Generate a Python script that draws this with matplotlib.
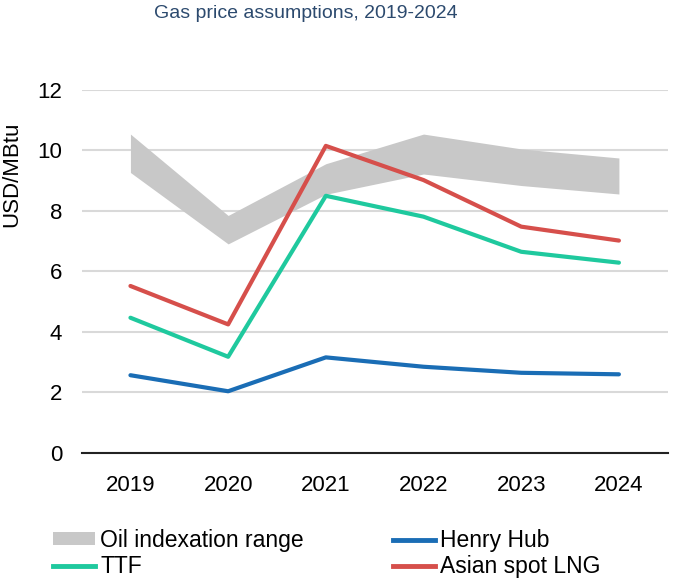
import matplotlib.pyplot as plt
from matplotlib.patches import Patch
from matplotlib.lines import Line2D

plt.rcParams["font.family"] = ["Liberation Sans", "DejaVu Sans"]

years = ["2019", "2020", "2021", "2022", "2023", "2024"]
oil_low = [9.27, 6.91, 8.55, 9.22, 8.84, 8.56]
oil_high = [10.54, 7.85, 9.56, 10.54, 10.05, 9.75]
henry_hub = [2.57, 2.04, 3.16, 2.85, 2.65, 2.60]
ttf = [4.47, 3.18, 8.50, 7.81, 6.65, 6.29]
asian_lng = [5.52, 4.25, 10.15, 9.02, 7.48, 7.02]

c_oil = "#c8c8c8"
c_hh = "#1a6db5"
c_ttf = "#1fc99e"
c_lng = "#d64f4b"


def main():
    fig = plt.figure(figsize=(6.8, 5.8), dpi=100)
    ax = fig.add_axes([0.12, 0.219, 0.862, 0.626])

    x = range(len(years))
    ax.fill_between(x, oil_low, oil_high, color=c_oil, linewidth=0, zorder=2)
    ax.plot(x, henry_hub, color=c_hh, linewidth=3, solid_capstyle="round", zorder=3)
    ax.plot(x, ttf, color=c_ttf, linewidth=3, solid_capstyle="round", zorder=3)
    ax.plot(x, asian_lng, color=c_lng, linewidth=3, solid_capstyle="round", zorder=3)

    ax.set_xlim(-0.5, len(years) - 0.5)
    ax.set_ylim(0, 12)
    ax.set_xticks(list(x))
    ax.set_xticklabels(years)
    ax.set_yticks(range(0, 13, 2))
    ax.tick_params(axis="both", length=0, labelsize=16, colors="black")
    ax.tick_params(axis="x", pad=16)
    ax.tick_params(axis="y", pad=14)

    ax.grid(axis="y", color="#d9d9d9", linewidth=1.5, zorder=0)
    ax.set_axisbelow(True)
    for s in ["top", "right", "left"]:
        ax.spines[s].set_visible(False)
    ax.spines["bottom"].set_color("#222222")
    ax.spines["bottom"].set_linewidth(1.5)
    ax.spines["bottom"].set_zorder(4)

    fig.text(0.449, 0.977, "Gas price assumptions, 2019-2024", ha="center", va="center",
             fontsize=14, color="#2c4a6e")
    fig.text(0.018, 0.70, "USD/MBtu", rotation=90, ha="center", va="center",
             fontsize=16)

    handles = [
        Patch(facecolor=c_oil, edgecolor="none"),
        Line2D([], [], color=c_ttf, linewidth=3.5),
        Line2D([], [], color=c_hh, linewidth=3.5),
        Line2D([], [], color=c_lng, linewidth=3.5),
    ]
    labels = ["Oil indexation range", "TTF", "Henry Hub", "Asian spot LNG"]
    fig.legend(handles, labels, loc="upper left", bbox_to_anchor=(0.078, 0.088),
               ncol=2, frameon=False, fontsize=16.5, handlelength=1.85,
               handleheight=0.5, handletextpad=0.2, columnspacing=3.9,
               labelspacing=0.14, borderpad=0, borderaxespad=0)

    fig.savefig("out.png", dpi=100)


if __name__ == "__main__":
    main()
